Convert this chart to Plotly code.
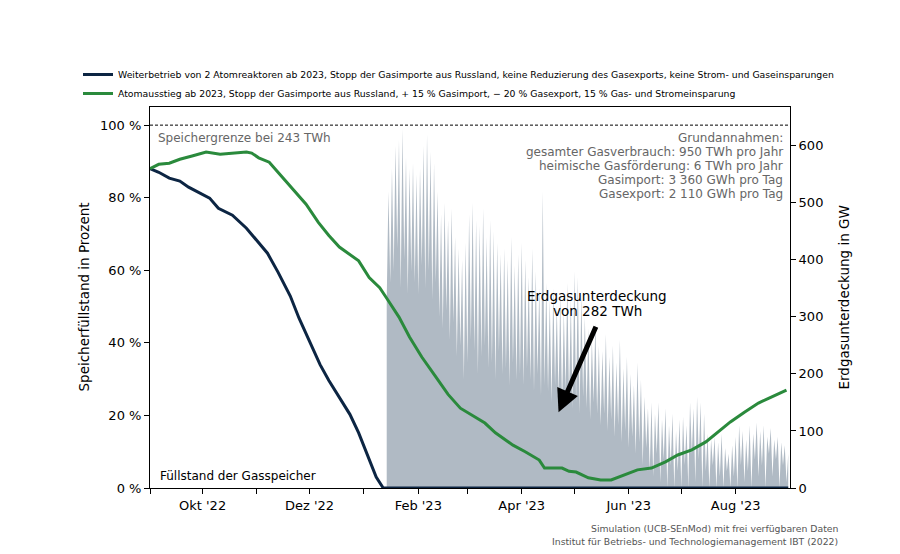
import plotly.graph_objects as go
import pandas as pd

# ---------------- data ----------------
blue_name = ("Weiterbetrieb von 2 Atomreaktoren ab 2023, Stopp der Gasimporte aus Russland, "
             "keine Reduzierung des Gasexports, keine Strom- und Gaseinsparungen")
green_name = ("Atomausstieg ab 2023, Stopp der Gasimporte aus Russland, + 15 % Gasimport, "
              "\u2212 20 % Gasexport, 15 % Gas- und Stromeinsparung")

blue_dates = ["2022-09-01", "2022-09-06", "2022-09-12", "2022-09-18", "2022-09-23", "2022-09-29",
              "2022-10-05", "2022-10-10", "2022-10-18", "2022-10-26", "2022-11-02", "2022-11-07",
              "2022-11-13", "2022-11-20", "2022-11-25", "2022-12-01", "2022-12-07", "2022-12-12",
              "2022-12-18", "2022-12-24", "2022-12-29", "2023-01-04", "2023-01-08", "2023-01-12",
              "2023-08-31"]
blue_pct = [88.0, 87.0, 85.4, 84.6, 82.9, 81.5,
            79.9, 77.1, 75.2, 71.6, 67.5, 64.7,
            59.5, 52.9, 46.8, 40.4, 34.0, 29.6,
            25.0, 20.3, 15.2, 8.2, 3.0, 0.0,
            0.0]

green_dates = ["2022-09-01", "2022-09-06", "2022-09-12", "2022-09-18", "2022-09-25", "2022-10-03",
               "2022-10-11", "2022-10-18", "2022-10-26", "2022-10-29", "2022-11-02", "2022-11-08",
               "2022-11-14", "2022-11-21", "2022-11-29", "2022-12-06", "2022-12-12", "2022-12-18",
               "2022-12-24", "2022-12-29", "2023-01-04", "2023-01-10", "2023-01-14", "2023-01-21",
               "2023-01-27", "2023-02-03", "2023-02-11", "2023-02-18", "2023-02-25", "2023-03-11",
               "2023-03-17", "2023-03-27", "2023-04-03", "2023-04-11", "2023-04-14", "2023-04-24",
               "2023-04-28", "2023-05-02", "2023-05-09", "2023-05-16", "2023-05-22", "2023-05-30",
               "2023-06-06", "2023-06-14", "2023-06-22", "2023-06-29", "2023-07-07", "2023-07-15",
               "2023-07-22", "2023-07-29", "2023-08-06", "2023-08-14", "2023-08-21", "2023-08-30"]
green_pct = [88.0, 89.2, 89.5, 90.6, 91.5, 92.6,
             92.0, 92.3, 92.6, 92.3, 91.0, 89.8,
             86.5, 82.4, 78.2, 73.2, 69.6, 66.4,
             64.4, 62.6, 58.0, 55.2, 52.3, 47.1,
             41.6, 36.1, 30.6, 25.8, 22.0, 17.9,
             15.2, 11.8, 10.0, 7.7, 5.5, 5.5,
             4.6, 4.4, 2.8, 2.2, 2.2, 3.6,
             5.0, 5.5, 7.2, 9.1, 10.5, 12.7,
             15.4, 18.2, 20.9, 23.4, 25.0, 27.0]

# daily gas deficit in GW, starting 14 Jan 2023
deficit_start = "2023-01-14"
deficit_gw = [
    # Jan 14-31
    330, 520, 360, 560, 380, 600, 420, 610, 350, 630, 400, 580, 340, 560, 380, 570, 360, 550,
    # Feb
    340, 560, 390, 600, 350, 620, 380, 590, 330, 570, 360, 520, 300, 480,
    280, 500, 310, 470, 260, 490, 290, 440, 230, 420, 250, 400, 190, 430,
    # Mar
    220, 480, 260, 500, 240, 470, 200, 460, 230, 490, 250, 440, 210, 470,
    220, 450, 190, 430, 240, 410, 200, 420, 210, 400, 180, 440, 220, 390, 190, 410, 200,
    # Apr
    430, 180, 400, 210, 370, 190, 420, 170, 380, 200, 350, 160, 520, 180,
    360, 170, 330, 150, 350, 180, 320, 160, 340, 140, 310, 170, 360, 150, 330, 140,
    # May
    380, 150, 370, 130, 340, 160, 300, 140, 280, 120, 260, 150, 290, 130,
    250, 110, 240, 130, 270, 100, 230, 120, 250, 90, 220, 110, 260, 80, 210, 100, 230,
    # Jun
    70, 200, 90, 180, 60, 220, 80, 190, 40, 160, 70, 140, 30, 150,
    20, 130, 60, 150, 10, 120, 50, 140, 0, 110, 40, 130, 0, 100, 30, 120,
    # Jul
    0, 125, 40, 110, 0, 150, 60, 140, 10, 160, 50, 150, 0, 130,
    30, 95, 0, 85, 40, 90, 0, 80, 20, 95, 0, 70, 30, 60, 0, 75, 20,
    # Aug
    90, 0, 110, 40, 100, 10, 85, 30, 110, 0, 95, 50, 115, 20,
    100, 40, 110, 0, 90, 60, 105, 20, 85, 50, 90, 0, 80, 40, 75, 10, 60,
]
deficit_dates = [d.strftime("%Y-%m-%d") for d in
                 pd.date_range(deficit_start, periods=len(deficit_gw), freq="D")]

month_ticks = ["2022-09-01", "2022-10-01", "2022-11-01", "2022-12-01", "2023-01-01", "2023-02-01",
               "2023-03-01", "2023-04-01", "2023-05-01", "2023-06-01", "2023-07-01", "2023-08-01"]
month_labels = ["", "Okt '22", "", "Dez '22", "", "Feb '23", "", "Apr '23", "", "Jun '23", "", "Aug '23"]
pct_ticks = [0, 20, 40, 60, 80, 100]
pct_labels = ["0 %", "20 %", "40 %", "60 %", "80 %", "100 %"]
gw_ticks = [0, 100, 200, 300, 400, 500, 600]

assumptions = ["Grundannahmen:",
               "gesamter Gasverbrauch: 950 TWh pro Jahr",
               "heimische Gasförderung: 6 TWh pro Jahr",
               "Gasimport: 3 360 GWh pro Tag",
               "Gasexport: 2 110 GWh pro Tag"]
deficit_label = ["Erdgasunterdeckung", "von 282 TWh"]
footer = ["Simulation (UCB-SEnMod) mit frei verfügbaren Daten",
          "Institut für Betriebs- und Technologiemanagement IBT (2022)"]

# ---------------- figure ----------------
FONT = "DejaVu Sans"
BLUE = "#0c2543"
GREEN = "#2a8a3c"
GREY = "#b0bac4"

# the page body adds an 8 px offset; plot area (screen px) 150..790 x 107..488
OFF = 8
PL, PR, PT, PB = 150, 790, 107, 488


def px(x):
    return (x - PL) / (PR - PL)


def py(y):
    return (PB - y) / (PB - PT)


fig = go.Figure()

# deficit area on the primary (right-side) axis so it sits beneath the lines
fig.add_trace(go.Scatter(x=deficit_dates, y=deficit_gw, mode="lines", fill="tozeroy",
                         line=dict(width=0, color=GREY), fillcolor=GREY,
                         showlegend=False, hoverinfo="skip", yaxis="y"))

fig.add_trace(go.Scatter(x=blue_dates, y=blue_pct, mode="lines", name=blue_name,
                         line=dict(color=BLUE, width=3), yaxis="y2"))
fig.add_trace(go.Scatter(x=green_dates, y=green_pct, mode="lines", name=green_name,
                         line=dict(color=GREEN, width=3), yaxis="y2"))

fig.update_layout(
    width=900, height=554,
    margin=dict(l=PL - OFF, r=900 - PR + OFF, t=PT - OFF, b=554 - PB + OFF, autoexpand=False),
    paper_bgcolor="white", plot_bgcolor="white",
    font=dict(family=FONT, size=13, color="black"),
    showlegend=True,
    legend=dict(x=px(78), y=py(60), xanchor="left", yanchor="top", font=dict(size=9.3),
                itemwidth=30, tracegroupgap=0, bgcolor="rgba(0,0,0,0)"),
    xaxis=dict(type="date", range=["2022-09-01", "2023-09-01"],
               tickvals=month_ticks, ticktext=month_labels,
               ticks="outside", ticklen=5, tickcolor="black",
               showline=True, linecolor="black", linewidth=1, mirror=True,
               showgrid=False, zeroline=False, tickfont=dict(size=13)),
    yaxis=dict(side="right", range=[0, 668], tickvals=gw_ticks,
               ticks="outside", ticklen=5, tickcolor="black",
               showline=True, linecolor="black", linewidth=1,
               showgrid=False, zeroline=False, tickfont=dict(size=13)),
    yaxis2=dict(side="left", overlaying="y", range=[0, 105],
                tickvals=pct_ticks, ticktext=pct_labels,
                ticks="outside", ticklen=5, tickcolor="black",
                showline=True, linecolor="black", linewidth=1,
                showgrid=False, zeroline=False, tickfont=dict(size=13)),
)

# axis titles
fig.add_annotation(xref="paper", yref="paper", x=px(83), y=0.5, text="Speicherfüllstand in Prozent",
                   textangle=-90, showarrow=False, xanchor="center", yanchor="middle",
                   font=dict(size=13.5))
fig.add_annotation(xref="paper", yref="paper", x=px(843), y=0.5, text="Erdgasunterdeckung in GW",
                   textangle=-90, showarrow=False, xanchor="center", yanchor="middle",
                   font=dict(size=13.5))

# storage limit dashed line
fig.add_shape(type="line", xref="paper", x0=0, x1=1, yref="y2", y0=100, y1=100,
              line=dict(color="black", width=1, dash="3px,2px"))

fig.add_annotation(xref="paper", yref="paper", x=px(156), y=py(138), text="Speichergrenze bei 243 TWh",
                   showarrow=False, xanchor="left", yanchor="middle",
                   font=dict(size=12, color="#666666"))
fig.add_annotation(xref="paper", yref="paper", x=px(158), y=py(476), text="Füllstand der Gasspeicher",
                   showarrow=False, xanchor="left", yanchor="middle",
                   font=dict(size=12, color="black"))

for i, line in enumerate(assumptions):
    fig.add_annotation(xref="paper", yref="paper", x=px(785), y=py(138 + 14 * i),
                       text=line, showarrow=False, xanchor="right", yanchor="middle",
                       font=dict(size=12, color="#666666"))

# deficit label and arrow
for i, line in enumerate(deficit_label):
    fig.add_annotation(xref="paper", yref="paper", x=px(597), y=py(296 + 15 * i),
                       text=line, showarrow=False, xanchor="center", yanchor="middle",
                       font=dict(size=13.5, color="black"))
fig.add_annotation(xref="x", x="2023-04-22", yref="y2", y=20.9, text="", showarrow=True,
                   ax=38, ay=-87, arrowhead=2, arrowsize=0.9, arrowwidth=5, arrowcolor="black")

# footer
for i, line in enumerate(footer):
    fig.add_annotation(xref="paper", yref="paper", x=px(840), y=py(528 + 13 * i),
                       text=line, showarrow=False, xanchor="right", yanchor="middle",
                       font=dict(size=9.3, color="#555555"))

fig.write_html("out.html")
